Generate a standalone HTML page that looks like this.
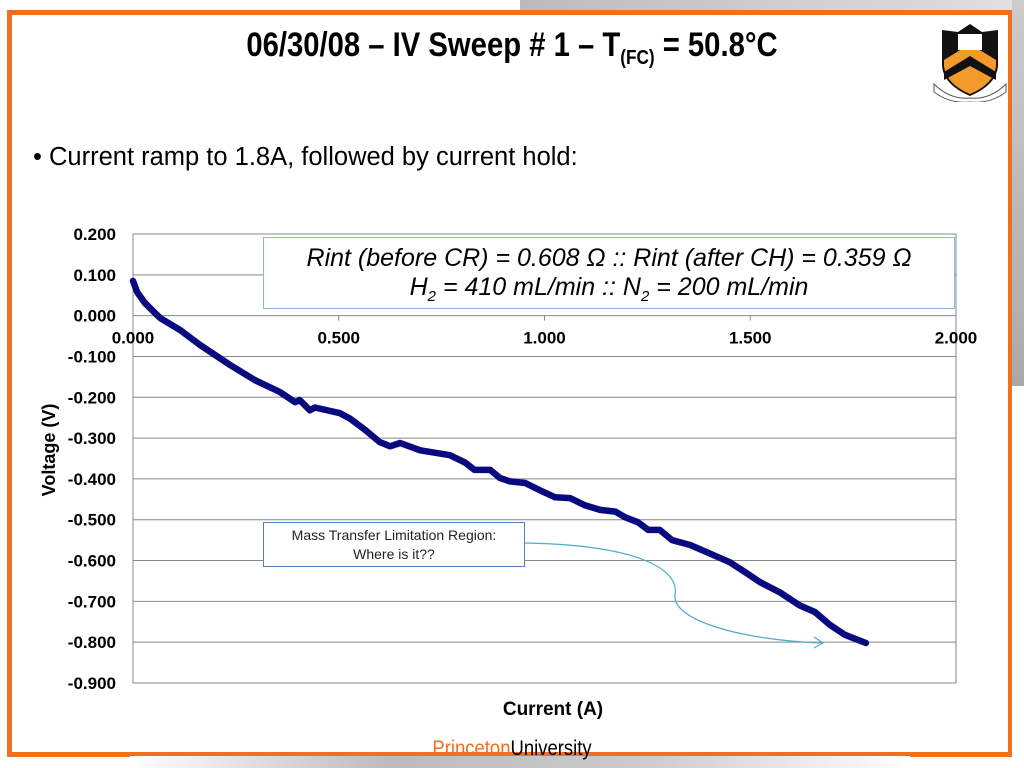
<!DOCTYPE html>
<html><head><meta charset="utf-8"><style>
body{margin:0;width:1024px;height:768px;overflow:hidden;background:#fff;font-family:"Liberation Sans",sans-serif;position:relative}
.abs{position:absolute}
</style></head><body>
<div class="abs" style="left:520px;top:0;width:504px;height:14px;background:linear-gradient(90deg,#bbb,#e0e0e0)"></div>
<div class="abs" style="left:1012px;top:0;width:12px;height:386px;background:linear-gradient(180deg,#ccc,#aaa)"></div>
<div class="abs" style="left:7px;top:10px;width:996px;height:737px;border:5px solid #f07020;border-right-width:4px;background:#fff"></div>
<div class="abs" style="left:130px;top:756px;width:780px;height:12px;background:linear-gradient(90deg,#fff,#bbb,#ccc,#fff)"></div>
<div class="abs" style="left:0;top:26px;width:1024px;text-align:center;font:bold 34px 'Liberation Sans',sans-serif;color:#000;transform:scaleX(0.86);transform-origin:512px 0">06/30/08 – IV Sweep # 1 – T<sub style="font-size:20px">(FC)</sub> = 50.8°C</div>
<svg class="abs" style="left:930px;top:22px" width="80" height="80" viewBox="0 0 80 80">
<path d="M12 8 L28 10 L40 2 L52 10 L68 8 L68 42 Q68 62 40 74 Q12 62 12 42Z" fill="#111"/>
<path d="M14 38 L40 22 L66 38 L66 44 Q64 62 40 72 Q16 62 14 44Z" fill="#f29b2a"/>
<path d="M14 50 L40 34 L66 50 L66 58 L40 44 L14 58Z" fill="#111"/>
<rect x="28" y="12" width="24" height="16" fill="#fff"/>
<path d="M4 62 Q20 78 40 76 Q60 78 76 62 L76 70 Q60 82 40 80 Q20 82 4 70Z" fill="#fff" stroke="#555"/>
</svg>
<div class="abs" style="left:33px;top:143px;font-size:25.5px;color:#000">• Current ramp to 1.8A, followed by current hold:</div>
<svg id="chart" class="abs" style="left:0;top:0" width="1024" height="768"></svg>
<div class="abs" style="left:263px;top:237px;width:692px;height:72px;border:1px solid #8eb4e3;background:#fff;text-align:center;font-style:italic;font-size:25px;line-height:29px;padding-top:6px;box-sizing:border-box">Rint (before CR) = 0.608 Ω :: Rint (after CH) = 0.359 Ω<br>H<sub style="font-size:15px">2</sub> = 410 mL/min :: N<sub style="font-size:15px">2</sub> = 200 mL/min</div>
<div class="abs" style="left:263px;top:522px;width:262px;height:45px;border:1px solid #4f81bd;background:#fff;text-align:center;font-size:14px;line-height:19px;padding-top:3px;box-sizing:border-box;color:#222">Mass Transfer Limitation Region:<br>Where is it??</div>
<div class="abs" style="left:0;top:737px;width:1024px;text-align:center;font:21px 'Liberation Sans',sans-serif;transform:scaleX(0.88);transform-origin:512px 0"><span style="color:#f07020">Princeton</span>University</div>
<script>
const xTicks=[0,0.5,1.0,1.5,2.0];
const xTickLabels=["0.000","0.500","1.000","1.500","2.000"];
const yTicks=[0.2,0.1,0,-0.1,-0.2,-0.3,-0.4,-0.5,-0.6,-0.7,-0.8,-0.9];
const yTickLabels=["0.200","0.100","0.000","-0.100","-0.200","-0.300","-0.400","-0.500","-0.600","-0.700","-0.800","-0.900"];
const currents=[0,0.01,0.029,0.066,0.114,0.163,0.236,0.296,0.357,0.394,0.405,0.43,0.442,0.503,0.527,0.564,0.6,0.625,0.649,0.698,0.77,0.807,0.83,0.868,0.892,0.916,0.953,0.989,1.026,1.062,1.099,1.135,1.172,1.196,1.227,1.252,1.28,1.31,1.354,1.4,1.45,1.487,1.524,1.572,1.62,1.657,1.694,1.73,1.781];
const voltages=[0.085,0.058,0.031,-0.006,-0.035,-0.072,-0.121,-0.158,-0.187,-0.212,-0.207,-0.232,-0.225,-0.239,-0.252,-0.28,-0.31,-0.32,-0.312,-0.33,-0.342,-0.36,-0.378,-0.378,-0.398,-0.406,-0.41,-0.428,-0.445,-0.447,-0.465,-0.476,-0.48,-0.494,-0.506,-0.525,-0.525,-0.55,-0.562,-0.582,-0.604,-0.628,-0.653,-0.678,-0.71,-0.726,-0.758,-0.782,-0.802];
const NS="http://www.w3.org/2000/svg";
const svg=document.getElementById('chart');
const X0=133,X1=956,Y0=234,Y1=683;
const xs=v=>X0+(v-0)/(2-0)*(X1-X0);
const ys=v=>Y0+(0.2-v)/(0.2+0.9)*(Y1-Y0);
function mk(t,a){const e=document.createElementNS(NS,t);for(const k in a)e.setAttribute(k,a[k]);svg.appendChild(e);return e;}
const frame=mk('rect',{x:X0,y:Y0,width:X1-X0,height:Y1-Y0,fill:'none',stroke:'#888'});


yTicks.forEach((v,i)=>{
 const g=mk('line',{x1:X0,x2:X1,y1:ys(v),y2:ys(v),stroke:'#888','stroke-width':1});
 
 
 const t=mk('text',{x:116,y:ys(v)+6,'text-anchor':'end','font-size':17,'font-weight':'bold','font-family':'Liberation Sans, sans-serif'});
 t.textContent=yTickLabels[i];
 
 
});
xTicks.forEach((v,i)=>{
 const tk=mk('line',{x1:xs(v),x2:xs(v),y1:ys(0),y2:ys(0)+5,stroke:'#888'});
 
 
 const t=mk('text',{x:xs(v),y:ys(0)+28,'text-anchor':'middle','font-size':17,'font-weight':'bold','font-family':'Liberation Sans, sans-serif'});
 t.textContent=xTickLabels[i];
 
 
});
const yl=mk('text',{x:0,y:0,transform:'translate(55,450) rotate(-90)','text-anchor':'middle','font-size':18,'font-weight':'bold','font-family':'Liberation Sans, sans-serif'});
yl.textContent='Voltage (V)';


const xl=mk('text',{x:553,y:715,'text-anchor':'middle','font-size':19,'font-weight':'bold','font-family':'Liberation Sans, sans-serif'});
xl.textContent='Current (A)';


const d=currents.map((c,i)=>(i?'L':'M')+xs(c).toFixed(1)+' '+ys(voltages[i]).toFixed(1)).join(' ');
const ln=mk('path',{d:d,fill:'none',stroke:'#0a0a80','stroke-width':6.5,'stroke-linejoin':'round','stroke-linecap':'round'});


const ar=mk('path',{d:'M525 543 C640 545 680 570 675 595 C672 620 740 640 822 643',fill:'none',stroke:'#4bacc6','stroke-width':1.2});


const ah=mk('path',{d:'M814 637 L823 643 L814 648',fill:'none',stroke:'#4bacc6','stroke-width':1.2});


</script>
</body></html>
